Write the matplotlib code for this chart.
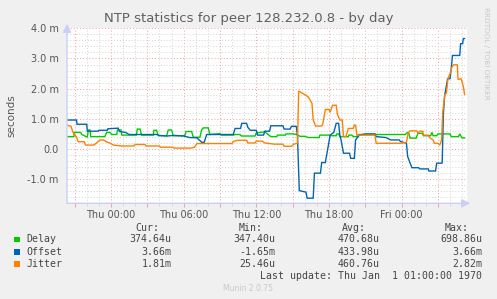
import matplotlib
matplotlib.use("Agg")
import matplotlib.pyplot as plt
from matplotlib.ticker import MultipleLocator, FuncFormatter
from matplotlib.patches import Rectangle

# ---------------- data (hours relative to Thu 00:00, values in ms) ----------------
delay_t = [-3.63, -3.05, -3.05, -2.5, -2.4, -1.95, -1.87, -1.73, -1.67, -0.5, -0.36, -0.08,
           0.06, 0.48, 0.53, 0.83, 0.9, 2.1, 2.17, 2.4, 2.53, 3.5, 3.55, 3.77, 3.9, 4.6,
           4.73, 5.0, 5.15, 6.1, 6.2, 6.66, 6.8, 7.35, 7.48, 7.62, 8.03, 8.17, 9.0, 9.1,
           10.1, 10.23, 10.64, 10.78, 11.9, 12.0, 12.7, 13.2, 13.7, 13.75, 14.4, 14.45,
           15.1, 15.4, 15.6, 16.0, 16.3, 17.2, 17.25, 18.0, 18.1, 18.6, 18.65, 18.8, 18.9,
           19.6, 19.65, 19.9, 20.0, 20.4, 20.45, 24.3, 24.5, 24.6, 24.7, 25.2, 25.35, 25.7,
           25.8, 26.4, 26.5, 26.6, 26.9, 27.0, 28.0, 28.1, 28.7, 28.8, 28.98, 29.2]
delay_v = [0.41, 0.41, 0.55, 0.55, 0.48, 0.39, 0.63, 0.63, 0.41, 0.41, 0.55, 0.55,
           0.48, 0.48, 0.63, 0.63, 0.46, 0.46, 0.66, 0.66, 0.46, 0.46, 0.62, 0.62, 0.44, 0.44,
           0.63, 0.63, 0.44, 0.44, 0.58, 0.58, 0.39, 0.39, 0.63, 0.70, 0.70, 0.48, 0.51, 0.46,
           0.46, 0.48, 0.48, 0.43, 0.43, 0.53, 0.57, 0.41, 0.41, 0.46, 0.46, 0.50,
           0.50, 0.47, 0.42, 0.42, 0.38, 0.38, 0.46, 0.46, 0.44, 0.44, 0.50, 0.50, 0.41,
           0.41, 0.46, 0.46, 0.41, 0.41, 0.48, 0.48, 0.55, 0.52, 0.36, 0.36, 0.52, 0.52,
           0.44, 0.44, 0.55, 0.44, 0.44, 0.50, 0.50, 0.41, 0.41, 0.50, 0.37, 0.37]

offset_t = [-3.63, -2.85, -2.8, -2.0, -1.95, -1.05, -1.0, -0.3, -0.25, 0.6, 0.7, 1.2, 1.5,
            3.8, 4.0, 4.6, 5.2, 6.0, 6.5, 7.1, 7.5, 7.7, 7.9, 10.1, 10.25, 10.7, 10.8, 11.2,
            11.3, 11.5, 12.0, 12.1, 12.6, 12.7, 13.1, 13.2, 14.2, 14.3, 14.8, 14.9, 15.3,
            15.4, 15.55, 16.1, 16.2, 16.7, 16.8, 17.3, 17.4, 17.7, 17.9, 18.1, 18.4, 18.6,
            18.8, 18.9, 19.0, 19.2, 19.7, 19.8, 20.1, 20.2, 20.5, 21.0, 21.8, 21.9, 22.7,
            23.1, 23.8, 23.9, 24.4, 24.5, 24.65, 24.85, 25.4, 25.5, 26.2, 26.25, 26.8, 26.9,
            27.35, 27.45, 27.56, 27.8, 28.0, 28.1, 28.2, 28.8, 28.87, 29.04, 29.1, 29.2]
offset_v = [0.96, 0.96, 0.82, 0.82, 0.59, 0.59, 0.62, 0.62, 0.67, 0.69, 0.58, 0.55, 0.48,
            0.48, 0.45, 0.43, 0.45, 0.43, 0.38, 0.37, 0.22, 0.22, 0.48, 0.48, 0.68, 0.68, 0.85, 0.85,
            0.72, 0.62, 0.62, 0.46, 0.46, 0.59, 0.59, 0.77, 0.77, 0.66, 0.66, 0.75, 0.75,
            0.46, -1.38, -1.43, -1.63, -1.63, -0.80, -0.80, -0.45, -0.45, 0.0, 0.46, 0.55, 0.85,
            0.85, 0.46, 0.30, -0.14, -0.14, -0.31, -0.31, 0.30, 0.46, 0.50, 0.50, 0.41, 0.38,
            0.30, 0.30, 0.25, 0.19, -0.25, -0.41, -0.62, -0.62, -0.66, -0.66, -0.73, -0.73, -0.47,
            -0.47, 1.18, 1.78, 2.33, 2.33, 2.66, 3.10, 3.10, 3.49, 3.49, 3.66, 3.66]

jitter_t = [-3.63, -3.3, -3.1, -2.85, -2.7, -2.2, -2.1, -1.4, -1.2, -0.9, -0.6, -0.4, -0.1,
            0.2, 0.9, 1.9, 2.0, 2.8, 2.9, 4.0, 4.1, 5.1, 5.2, 6.6, 6.9, 7.1, 10.0, 10.1,
            10.5, 11.2, 11.3, 11.9, 12.0, 12.5, 12.7, 13.5, 14.2, 14.3, 14.9, 15.1, 15.4,
            15.5, 15.8, 16.1, 16.3, 16.6, 16.7, 16.9, 17.4, 17.5, 17.7, 18.0, 18.1, 18.3,
            18.6, 18.7, 18.9, 19.1, 19.2, 19.4, 19.6, 20.0, 20.1, 20.2, 20.3, 21.8, 21.9,
            23.9, 24.4, 24.55, 24.7, 25.25, 25.35, 25.5, 25.75, 25.8, 26.2, 26.3, 26.6, 26.7,
            27.0, 27.15, 27.3, 27.4, 27.56, 27.7, 27.83, 28.0, 28.16, 28.3, 28.6, 28.66,
            28.9, 29.0, 29.1, 29.2]
jitter_v = [0.79, 0.75, 0.52, 0.40, 0.24, 0.24, 0.13, 0.13, 0.20, 0.30, 0.30, 0.24, 0.20,
            0.13, 0.10, 0.10, 0.15, 0.15, 0.10, 0.10, 0.06, 0.06, 0.03, 0.03, 0.06, 0.18, 0.18, 0.25,
            0.29, 0.29, 0.20, 0.20, 0.26, 0.26, 0.20, 0.16, 0.16, 0.09, 0.09, 0.16, 0.19,
            1.92, 1.85, 1.78, 1.72, 1.51, 0.96, 0.76, 0.76, 0.84, 1.31, 1.31, 1.22, 1.45,
            1.45, 1.15, 0.96, 0.96, 0.41, 0.41, 0.68, 0.68, 0.79, 0.79, 0.46, 0.46, 0.19,
            0.19, 0.22, 0.55, 0.60, 0.60, 0.52, 0.59, 0.59, 0.46, 0.46, 0.38, 0.30, 0.19,
            0.19, 0.13, 0.30, 1.23, 1.79, 1.85, 2.33, 2.50, 2.72, 2.79, 2.79, 2.30,
            2.33, 2.22, 2.06, 1.81]

series_names = ["Delay", "Offset", "Jitter"]
series_colors = ["#00CC00", "#0066B3", "#FF8000"]
cur_vals = ["374.64u", "3.66m", "1.81m"]
min_vals = ["347.40u", "-1.65m", "25.46u"]
avg_vals = ["470.68u", "433.98u", "460.76u"]
max_vals = ["698.86u", "3.66m", "2.82m"]
day_labels = {0: "Thu 00:00", 6: "Thu 06:00", 12: "Thu 12:00", 18: "Thu 18:00", 24: "Fri 00:00"}
ytick_labels = {4: "4.0 m", 3: "3.0 m", 2: "2.0 m", 1: "1.0 m", 0: "0.0", -1: "-1.0 m"}

# ---------------- figure ----------------
W, H = 497, 299
fig = plt.figure(figsize=(W / 100, H / 100), dpi=100, facecolor="#F0F0F0")

def fx(x):
    return x / W

def fy(y):
    return 1 - y / H

left, right, top, bottom = 67, 467, 28.3, 203.3
ax = fig.add_axes([fx(left), fy(bottom), (right - left) / W, (bottom - top) / H])
ax.set_facecolor("white")
ax.set_xlim(-3.63, 29.4)
ax.set_ylim(-1.8, 4.0)

# grid
ax.xaxis.set_major_locator(MultipleLocator(3))
ax.xaxis.set_minor_locator(MultipleLocator(1))
ax.yaxis.set_major_locator(MultipleLocator(1))
ax.yaxis.set_minor_locator(MultipleLocator(0.2))
ax.grid(which="minor", color="#D4D4D4", linestyle=(0, (1.0, 2.0)), linewidth=0.7)
ax.grid(which="major", color="#F2A8A8", linestyle=(0, (1.0, 2.0)), linewidth=0.75)
ax.set_axisbelow(True)

ax.xaxis.set_major_formatter(FuncFormatter(lambda v, p: day_labels.get(int(round(v)), "") if abs(v - round(v)) < 1e-6 else ""))
ax.yaxis.set_major_formatter(FuncFormatter(lambda v, p: ytick_labels.get(int(round(v)), "")))
ax.tick_params(axis="x", which="major", length=3, color="#F2A8A8", labelsize=7, labelcolor="#555555", pad=1.5)
ax.tick_params(axis="x", which="minor", length=2, color="#D4D4D4")
ax.tick_params(axis="y", which="major", length=0, labelsize=7, labelcolor="#555555", pad=6)
ax.tick_params(axis="y", which="minor", length=0)
for s in ax.spines.values():
    s.set_visible(False)

# series
for t, v, c in zip([delay_t, offset_t, jitter_t], [delay_v, offset_v, jitter_v], series_colors):
    ax.plot(t, v, color=c, linewidth=1.0, solid_joinstyle="miter")

# axis arrows
arrow_c = "#C8D0F8"
ax.annotate("", xy=(fx(473), fy(203.3)), xytext=(fx(64), fy(203.3)), xycoords="figure fraction",
            arrowprops=dict(arrowstyle="-|>,head_width=0.25,head_length=0.5", color=arrow_c, lw=1))
ax.annotate("", xy=(fx(67), fy(21)), xytext=(fx(67), fy(206)), xycoords="figure fraction",
            arrowprops=dict(arrowstyle="-|>,head_width=0.25,head_length=0.5", color=arrow_c, lw=1))

ax.set_ylabel("seconds", fontsize=7.5, color="#555555", labelpad=8)

# title
fig.text(fx(249), fy(18.5), "NTP statistics for peer 128.232.0.8 - by day", ha="center", va="center",
         fontsize=9.5, color="#606060")
fig.text(fx(486), fy(53), "RRDTOOL / TOBI OETIKER", rotation=270, ha="center", va="center",
         fontsize=5.2, color="#C8C8C8")

# legend
mono = dict(family="DejaVu Sans Mono", fontsize=7.1, color="#444444")
col_right = [159, 263, 366, 469]
for xr, h in zip(col_right, ["Cur:", "Min:", "Avg:", "Max:"]):
    fig.text(fx(xr), fy(227.7), h, ha="right", va="center", **mono)
val_right = [171.7, 275, 379.3, 482.3]
rows_y = [239.3, 251.7, 263.7]
for i, name in enumerate(series_names):
    y = rows_y[i]
    fig.patches.append(Rectangle((fx(14), fy(y + 2.8)), 5.5 / W, 5.5 / H, transform=fig.transFigure,
                                 facecolor=series_colors[i], edgecolor="none"))
    fig.text(fx(26), fy(y), name, ha="left", va="center", **mono)
    for xr, vals in zip(val_right, [cur_vals, min_vals, avg_vals, max_vals]):
        fig.text(fx(xr), fy(y), vals[i], ha="right", va="center", **mono)
fig.text(fx(482.3), fy(275.7), "Last update: Thu Jan  1 01:00:00 1970", ha="right", va="center", **mono)
fig.text(fx(248), fy(288.3), "Munin 2.0.75", ha="center", va="center", fontsize=5.5, color="#C8C8C8")

fig.savefig("out.png", dpi=100, facecolor=fig.get_facecolor())
